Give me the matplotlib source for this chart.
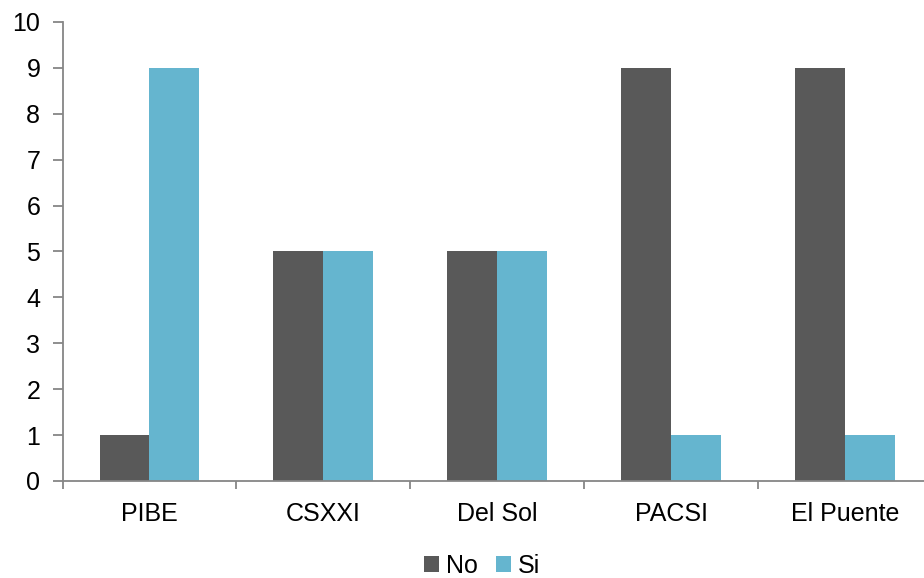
import matplotlib
matplotlib.use("Agg")
import matplotlib.pyplot as plt
import numpy as np

plt.rcParams['font.family'] = ['Liberation Sans', 'DejaVu Sans']

categories = ["PIBE", "CSXXI", "Del Sol", "PACSI", "El Puente"]
no_vals = [1, 5, 5, 9, 9]
si_vals = [9, 5, 5, 1, 1]
series_names = ["No", "Si"]
colors = ["#595959", "#65B5CF"]
yticks = list(range(0, 11))

W, H = 924, 578
fig = plt.figure(figsize=(W / 100, H / 100), dpi=100)
# axes extends slightly past the right edge of the canvas
left, right, top, bottom = 62.5, 932, 22, 481
ax = fig.add_axes([left / W, 1 - bottom / H, (right - left) / W, (bottom - top) / H])

x = np.arange(len(categories))
bw = 0.287
ax.bar(x - bw / 2, no_vals, bw, color=colors[0], label=series_names[0])
ax.bar(x + bw / 2, si_vals, bw, color=colors[1], label=series_names[1])

ax.set_xlim(-0.5, len(categories) - 0.5)
ax.set_ylim(0, 10)
ax.set_yticks(yticks)
ax.set_xticks(x)
ax.set_xticklabels(categories)
ax.set_xticks(np.arange(-0.5, len(categories)), minor=True)

axis_col = "#868686"
for s in ["top", "right"]:
    ax.spines[s].set_visible(False)
for s in ["left", "bottom"]:
    ax.spines[s].set_color(axis_col)
    ax.spines[s].set_linewidth(1.3)

fs = 18
ax.tick_params(axis="y", length=7, width=1.3, color=axis_col, labelsize=fs, pad=9)
ax.tick_params(axis="x", which="major", length=0, labelsize=fs, pad=15)
ax.tick_params(axis="x", which="minor", length=6, width=1.3, color=axis_col)

fig.legend(loc="center", bbox_to_anchor=(482 / W, 1 - 566 / H), ncol=2, frameon=False,
           fontsize=fs, handlelength=0.6, handleheight=0.6, handletextpad=0.3,
           columnspacing=0.7)

fig.savefig("out.png", dpi=100)
